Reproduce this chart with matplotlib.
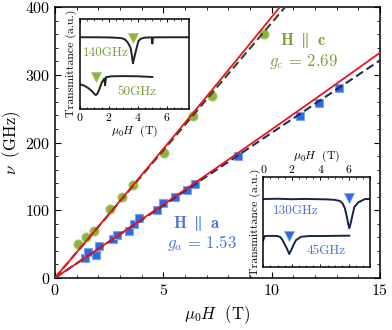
import matplotlib
matplotlib.use('Agg')
import matplotlib.pyplot as plt
import numpy as np
from matplotlib.ticker import MultipleLocator

plt.rcParams['font.family'] = ['cmr10']
plt.rcParams['mathtext.fontset'] = 'cm'
plt.rcParams['axes.formatter.use_mathtext'] = True
plt.rcParams['axes.unicode_minus'] = False

# ---------------- data ----------------
H_c = [1.08, 1.43, 1.80, 2.54, 3.08, 3.61, 5.03, 6.38, 7.23, 9.66]
nu_c = [50, 60, 69, 102, 120, 138, 184, 239, 269, 360]
H_a = [1.38, 1.54, 1.92, 2.05, 2.69, 2.85, 3.43, 3.65, 3.88, 4.72, 5.0, 5.56,
       6.08, 6.46, 8.46, 11.3, 12.2, 13.12]
nu_a = [29, 38, 34, 47, 58, 64, 69, 80, 89, 100, 110, 119,
        130, 139, 180, 239, 259, 280]
g_c = 2.69
g_a = 1.53
muB_over_h = 13.996   # GHz/T
curv_c = 0.085        # GHz/T^2, red fit curvature
curv_a = 0.05

# inset 1 (H || c) traces
in1_H_140 = [0, 1, 2, 2.6, 2.9, 3.1, 3.26, 3.4, 3.5, 3.58, 3.66, 3.74, 3.85, 3.95,
             4.04, 4.2, 4.5, 4.95, 4.98, 5.0, 5.02, 5.05, 6, 7.5]
in1_T_140 = [0.796, 0.796, 0.794, 0.79, 0.785, 0.772, 0.746, 0.71, 0.673, 0.6,
             0.505, 0.56, 0.635, 0.70, 0.754, 0.78, 0.792, 0.795, 0.76, 0.725,
             0.76, 0.795, 0.796, 0.796]
in1_H_50 = [0, 0.3, 0.6, 0.85, 1.0, 1.1, 1.2, 1.35, 1.5, 1.68, 1.73, 1.76, 1.8,
            2.2, 3, 4, 5]
in1_T_50 = [0.27, 0.255, 0.225, 0.19, 0.16, 0.15, 0.165, 0.22, 0.29, 0.335, 0.26,
            0.30, 0.35, 0.36, 0.362, 0.36, 0.352]
in1_peaks_H = [3.66, 1.1]
in1_peaks_T = [0.784, 0.355]

# inset 2 (H || a) traces
in2_H_130 = [0, 1, 2, 3, 4.43, 5.0, 5.37, 5.55, 5.72, 5.88, 5.96, 6.03, 6.1, 6.2,
             6.38, 6.66, 7.13, 7.5]
in2_T_130 = [0.757, 0.76, 0.755, 0.758, 0.753, 0.748, 0.735, 0.71, 0.653, 0.54,
             0.47, 0.43, 0.47, 0.54, 0.667, 0.72, 0.757, 0.757]
in2_H_45 = [0, 0.1, 0.5, 1.0, 1.2, 1.35, 1.5, 1.65, 1.82, 2.0, 2.15, 2.3, 2.65,
            3.2, 4, 5, 6.03]
in2_T_45 = [0.298, 0.343, 0.345, 0.343, 0.33, 0.298, 0.25, 0.205, 0.142, 0.2,
            0.255, 0.298, 0.335, 0.343, 0.343, 0.345, 0.347]
in2_peaks_H = [6.03, 1.8]
in2_peaks_T = [0.765, 0.343]

# ---------------- styles ----------------
GREEN = '#8cb43a'
GREEN_EDGE = '#a8c870'
GREEN_TXT = '#7d9f3f'
BLUE = '#2e6ae0'
BLUE_EDGE = '#7ea2ee'
BLUE_TXT = '#4a74d8'
RED = '#e8151b'

fig = plt.figure(figsize=(3.92, 3.3), dpi=100)
ax = fig.add_axes([0.140, 0.1576, 0.829, 0.821])

ax.plot(H_c, nu_c, 'o', ms=6.5, mfc=GREEN, mec=GREEN_EDGE, mew=0.8, zorder=2)
ax.plot(H_a, nu_a, 's', ms=5.8, mfc=BLUE, mec=BLUE_EDGE, mew=0.8, zorder=2)

Hl = np.linspace(0, 15, 400)
ax.plot(Hl, g_c * muB_over_h * Hl, color='#34442a', lw=1.5, ls=(0, (4, 2)), zorder=3)
ax.plot(Hl, g_a * muB_over_h * Hl, color='#1d2d5c', lw=1.5, ls=(0, (4, 2)), zorder=3)
ax.plot(Hl, g_c * muB_over_h * Hl + curv_c * Hl**2, color=RED, lw=1.3, zorder=4)
ax.plot(Hl, g_a * muB_over_h * Hl + curv_a * Hl**2, color=RED, lw=1.3, zorder=4)

ax.set_xlim(0, 15)
ax.set_ylim(0, 400)
ax.xaxis.set_major_locator(MultipleLocator(5))
ax.xaxis.set_minor_locator(MultipleLocator(1))
ax.yaxis.set_major_locator(MultipleLocator(100))
ax.yaxis.set_minor_locator(MultipleLocator(20))
ax.tick_params(which='both', direction='in', top=True, right=True, labelsize=11.5)
ax.tick_params(which='major', length=4, width=0.8)
ax.tick_params(which='minor', length=2, width=0.6)
for s in ax.spines.values():
    s.set_linewidth(1.1)
ax.set_xlabel(r'$\mu_0H\ \ (\mathrm{T})$', fontsize=12, labelpad=4)
ax.set_ylabel(r'$\nu\ \ (\mathrm{GHz})$', fontsize=12, labelpad=1)

ax.text(11.44, 351, r'$\mathbf{H}\ \parallel\ \mathbf{c}$', color=GREEN_TXT, fontsize=12,
        ha='center', va='center')
ax.text(11.49, 320, r'$g_c\, =\, 2.69$', color=GREEN_TXT, fontsize=12,
        ha='center', va='center')
ax.text(6.54, 80, r'$\mathbf{H}\ \parallel\ \mathbf{a}$', color=BLUE_TXT, fontsize=12,
        ha='center', va='center')
ax.text(6.77, 52, r'$g_a\, =\, 1.53$', color=BLUE_TXT, fontsize=12,
        ha='center', va='center')


def style_inset(a):
    a.set_xlim(0, 7.5)
    a.set_ylim(0, 1)
    a.set_yticks([])
    a.xaxis.set_major_locator(MultipleLocator(2))
    a.xaxis.set_minor_locator(MultipleLocator(0.5))
    a.tick_params(which='both', direction='in', top=True, bottom=True, labelsize=8.5, pad=1.5)
    a.tick_params(which='major', length=2.5, width=0.7)
    a.tick_params(which='minor', length=1.5, width=0.5)
    for s in a.spines.values():
        s.set_linewidth(1.1)
    a.set_ylabel('Transmittance (a.u.)', fontsize=8.5, labelpad=2)


# inset 1
a1 = fig.add_axes([80 / 392, 1 - 108.5 / 330, 108.5 / 392, 89.5 / 330])
style_inset(a1)
a1.plot(in1_H_140, in1_T_140, color='#1c261a', lw=1.4)
a1.plot(in1_H_50, in1_T_50, color='#1c261a', lw=1.4)
a1.plot(in1_peaks_H, in1_peaks_T, 'v', ms=7, mfc=GREEN, mec=GREEN_EDGE, mew=0.6)
a1.text(0.23, 0.617, '140GHz', color=GREEN_TXT, fontsize=9.5, ha='left', va='center')
a1.text(2.57, 0.18, '50GHz', color=GREEN_TXT, fontsize=9.5, ha='left', va='center')
a1.set_xlabel(r'$\mu_0H\ \ (\mathrm{T})$', fontsize=8.5, labelpad=1)

# inset 2
a2 = fig.add_axes([263.3 / 392, 1 - 266.7 / 330, 107 / 392, 89.4 / 330])
style_inset(a2)
a2.tick_params(which='both', labeltop=True, labelbottom=False)
a2.xaxis.set_label_position('top')
a2.plot(in2_H_130, in2_T_130, color='#16224a', lw=1.4)
a2.plot(in2_H_45, in2_T_45, color='#16224a', lw=1.4)
a2.plot(in2_peaks_H, in2_peaks_T, 'v', ms=7, mfc=BLUE, mec=BLUE_EDGE, mew=0.6)
a2.text(0.66, 0.623, '130GHz', color=BLUE_TXT, fontsize=9.5, ha='left', va='center')
a2.text(3.03, 0.176, '45GHz', color=BLUE_TXT, fontsize=9.5, ha='left', va='center')
a2.set_xlabel(r'$\mu_0H\ \ (\mathrm{T})$', fontsize=8.5, labelpad=3)

fig.savefig('out.png', dpi=100)
